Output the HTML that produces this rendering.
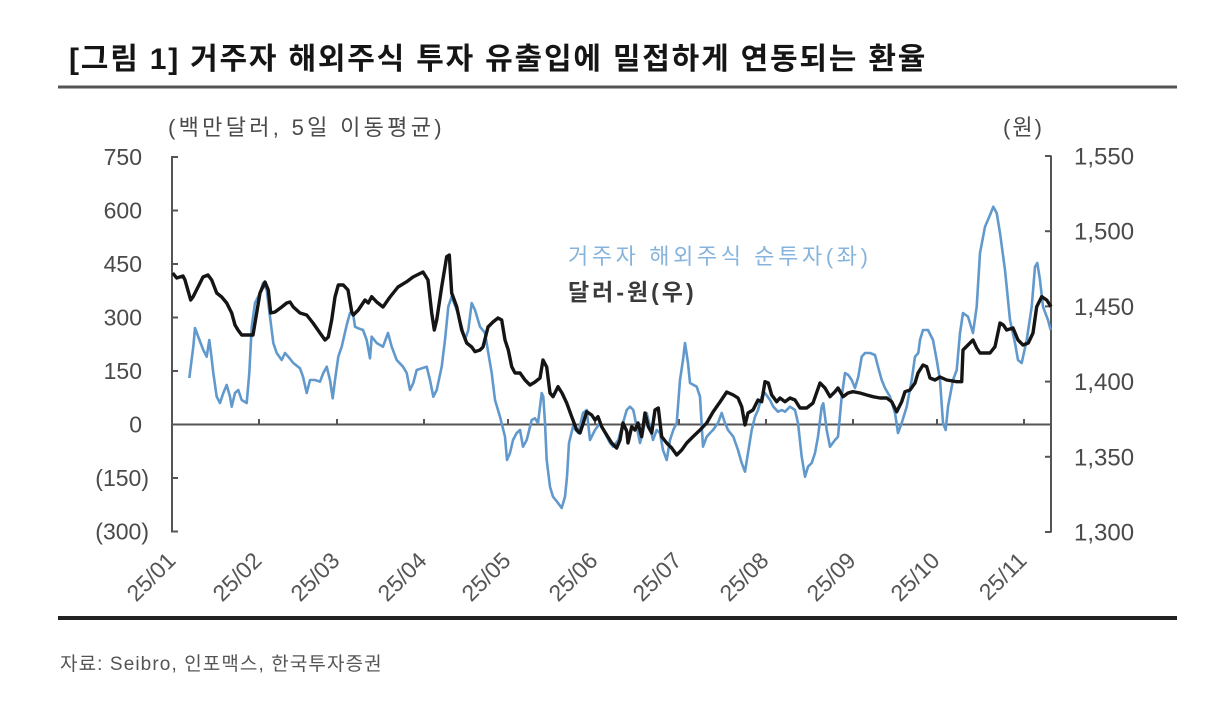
<!DOCTYPE html>
<html><head><meta charset="utf-8">
<style>
html,body{margin:0;padding:0;background:#fff;}
svg{display:block;}
text{font-family:"Liberation Sans","Noto Sans CJK KR",sans-serif;}
</style></head>
<body>
<svg width="1206" height="725" viewBox="0 0 1206 725" xmlns="http://www.w3.org/2000/svg">
<rect width="1206" height="725" fill="#fff"/>
<!-- title -->
<text x="69" y="69" font-size="30" font-weight="bold" fill="#151515" letter-spacing="1.8">[그림 1] 거주자 해외주식 투자 유출입에 밀접하게 연동되는 환율</text>
<line x1="58" y1="87" x2="1177" y2="87" stroke="#555" stroke-width="3"/>
<!-- units -->
<text x="168" y="135" font-size="22" fill="#4a4a4a" letter-spacing="3.3">(백만달러, 5일 이동평균)</text>
<text x="1003" y="135" font-size="22" fill="#4a4a4a" letter-spacing="2">(원)</text>
<!-- left axis -->
<g stroke="#555" stroke-width="2" fill="none">
<line x1="172" y1="156" x2="172" y2="532.5"/>
<line x1="172" y1="157" x2="178" y2="157"/>
<line x1="172" y1="210.5" x2="178" y2="210.5"/>
<line x1="172" y1="264" x2="178" y2="264"/>
<line x1="172" y1="317.5" x2="178" y2="317.5"/>
<line x1="172" y1="371" x2="178" y2="371"/>
<line x1="172" y1="478" x2="178" y2="478"/>
<line x1="172" y1="531.5" x2="178" y2="531.5"/>
<!-- right axis -->
<line x1="1051" y1="155.5" x2="1051" y2="532.5"/>
<line x1="1045" y1="156" x2="1051" y2="156"/>
<line x1="1045" y1="231.2" x2="1051" y2="231.2"/>
<line x1="1045" y1="306.4" x2="1051" y2="306.4"/>
<line x1="1045" y1="381.6" x2="1051" y2="381.6"/>
<line x1="1045" y1="456.8" x2="1051" y2="456.8"/>
<line x1="1045" y1="532" x2="1051" y2="532"/>
<!-- zero line -->
<line x1="172" y1="424.5" x2="1051" y2="424.5"/>
<!-- month ticks -->
<line x1="259" y1="424.5" x2="259" y2="419"/>
<line x1="337" y1="424.5" x2="337" y2="419"/>
<line x1="424" y1="424.5" x2="424" y2="419"/>
<line x1="508" y1="424.5" x2="508" y2="419"/>
<line x1="595" y1="424.5" x2="595" y2="419"/>
<line x1="679" y1="424.5" x2="679" y2="419"/>
<line x1="766" y1="424.5" x2="766" y2="419"/>
<line x1="853" y1="424.5" x2="853" y2="419"/>
<line x1="937" y1="424.5" x2="937" y2="419"/>
<line x1="1024" y1="424.5" x2="1024" y2="419"/>
</g>
<!-- left labels -->
<g font-size="23" fill="#4a4a4a" text-anchor="end">
<text x="142" y="165">750</text>
<text x="142" y="218.5">600</text>
<text x="142" y="272">450</text>
<text x="142" y="325.5">300</text>
<text x="142" y="379">150</text>
<text x="142" y="432.5">0</text>
<text x="149" y="486">(150)</text>
<text x="149" y="539.5">(300)</text>
</g>
<!-- right labels -->
<g font-size="24" fill="#4a4a4a">
<text x="1074" y="164.5">1,550</text>
<text x="1074" y="239.7">1,500</text>
<text x="1074" y="314.9">1,450</text>
<text x="1074" y="390.1">1,400</text>
<text x="1074" y="465.3">1,350</text>
<text x="1074" y="540.5">1,300</text>
</g>
<!-- x labels -->
<g font-size="23" fill="#555" text-anchor="end">
<text transform="translate(177,562) rotate(-45)">25/01</text>
<text transform="translate(263,562) rotate(-45)">25/02</text>
<text transform="translate(341,562) rotate(-45)">25/03</text>
<text transform="translate(428,562) rotate(-45)">25/04</text>
<text transform="translate(512,562) rotate(-45)">25/05</text>
<text transform="translate(599,562) rotate(-45)">25/06</text>
<text transform="translate(683,562) rotate(-45)">25/07</text>
<text transform="translate(770,562) rotate(-45)">25/08</text>
<text transform="translate(857,562) rotate(-45)">25/09</text>
<text transform="translate(941,562) rotate(-45)">25/10</text>
<text transform="translate(1028,562) rotate(-45)">25/11</text>
</g>
<!-- blue series -->
<polyline fill="none" stroke="#6199cd" stroke-width="2.6" stroke-linejoin="round" points="189.3,378 193.3,346.7 195,328 198.3,337 203.3,350 206.7,356.7 209.3,340 211,353 213.3,373 216.7,396.7 220,403 223.3,393 226.7,385 230,396.7 231.7,406.7 235,393 238.3,390 241.7,400 246.7,403 249.3,373 251.7,326.7 255,303 260,293 263,283 266.7,290 270,316.7 273.3,343 276.7,353 281.7,360 285,353 288.3,356.7 293.3,363 300,368.3 303,376.7 306.7,393 310,380 315,380 320,381.7 323.3,373 326.7,366.7 330,380 332.7,398.3 335,380 338.3,356.7 341.7,346.7 346.7,325 350,313 353.3,315 355,326.7 358.3,328.3 363,330 366.7,340 370,358.3 371.7,336.7 376.7,343 383,346.7 388,333 391.7,346.7 396.7,360 403,366.7 406.7,373 410,390 413.3,383 416.7,370 421.7,368.3 426.7,366.7 430,380 433.3,396.7 436.7,390 441.7,366.7 445,340 448.3,306.7 451.7,296.7 456.7,310 461.7,326.7 465,340 468.3,330 471.7,303 475,310 480,326.7 485,333 488.3,353 491.7,373 495,400 500,416.7 505,436.7 507,460 510,453 513,440 516.7,433 520,430 523,446.7 526.7,440 531.7,420 535,418.3 538,423 541.7,393 543.3,396.7 545,423 546.7,460 550,486.7 553,496.7 558,503 561.7,508 565,496.7 567,476.7 569,443 573,426.7 578.3,433 583,413 586.7,410 590,440 595,430 600,423 605,433 610,443 613.3,446.7 618.3,440 623,423 626.7,410 630,406.7 633.3,410 636.7,426.7 640,443 643.3,430 646.7,413 650,426.7 653,440 656.7,430 660,433 663,450 666.7,460 670,440 673.3,430 676.7,423 680,380 683,360 685,343 688,363 690,383 696.7,386.7 700,396.7 703,446.7 706.7,436.7 710,433 713,430 718,423 721.7,413 725,423 728,430 733.3,436.7 738,450 741.7,463 745,471.7 748,453 751.7,430 755,416.7 758,410 761.7,396.7 765,393 770,400 773.3,406.7 778,411.7 781.7,410 785,411.7 790,406.7 795,410 798,423 801.7,456.7 805,476.7 808,466.7 811.7,463 815,453 818,436.7 821.7,406.7 823.3,403.3 826.7,430 830,446.7 835,440 838,436.7 841.7,396.7 845,373 848.3,375 851.7,380 855,388 858.3,376.7 861.7,356.7 865,353 870,353 875,355 878,366.7 881.7,380 885,388 890,396.7 895,413 898,433 901.7,423 906.7,406.7 911.7,380 915,356.7 918.3,353 920,340 923,330 928,330 933,340 936.7,360 940,380 943,423 945.7,430 948,406.7 953,380 956.7,370 960,333 963,313 968,316.7 973,333 976.7,306.7 980,253 985,226.7 990,215 993.3,206.7 996.7,213 1000,233 1005,270 1010,320 1015,343 1018,360 1021.7,363 1026.7,340 1031.7,306.7 1035,266.7 1037.3,263 1040,280 1043,306.7 1048,320 1050.7,330"/>
<!-- black series -->
<polyline fill="none" stroke="#151515" stroke-width="3.4" stroke-linejoin="round" points="172.7,273 176.7,278 183,276 185,280 190.7,300 193,297 200,283 203,277 208,275 211.7,280 216.7,293 221.7,297 226.7,303 231.7,313 235,325 238,330 241.7,335 253,335 256,317 260,293 265,282 268.3,290 270.7,313 275,312 281.7,307 286.7,303 290,302 293.3,307 300,313 306.7,315 313,323 320,333 325,340 328.3,337 331.7,320 335,297 338.3,285 343.3,285 348,290 351.7,311.7 353.3,315 358.3,310 365,300 368.3,303 371.7,296.7 376.7,302 383,307 390,297 398,287 406.7,281.7 413,277 423,272 428,280 431.7,313 434.3,330 436.7,320 441.7,286.7 446.7,256.7 449.3,255 451.7,293 456.7,306.7 461.7,330 466.7,343 471.7,347 475,351.7 480,350 483,347 488,327 493,322 498,318 501.7,320 505,340 508.3,350 511.7,366.7 515,373 520,373 525,380 530,385 535,382 540,378 543,360 546.7,367 550,393 553,396.7 558,386.7 562,393 566.7,403 571.7,416.7 576.7,430 580,433 583.3,423 586.7,411.7 591.7,415 595,420 598,416.7 601.7,426.7 606.7,435 611.7,443 616.7,448 620,440 623,423 626.7,431 628,443 631.7,426.7 635,430 638,423 641.7,436.7 645,413 648.3,426.7 651.7,433 655,410 658.3,408 661.7,436.7 666.7,443 671.7,448 676.7,455 681.7,450 686.7,443 693,436.7 700,430 706.7,423 713,412 720,402 726.7,392 733.3,395 738,398 741.7,406.7 745,425 748,413 753,410 758,400 761.7,401.7 765,381.7 768.3,383 771.7,395 776.7,401.7 780,398 785,401.7 790,398 795,400 800,408 806.7,408 813,403 820,383 825,388 830,396.7 835,391.7 838,388 843,396.7 848,393 853,391.7 860,393 866.7,395 873,396.7 880,398 886.7,398 891.7,401.7 896.7,411.7 901.7,401.7 905,391.7 910,390 915,383 918,373 923,365 926.7,366.7 930,378 935,380 940,377 946.7,380 956.7,381.7 961.7,381.7 963,350 968,345 973,340 976.7,348 980,353 990,353 995,346.7 1000,323 1003.3,325 1006.7,330 1013,328 1018,340 1023,345 1028.3,343 1033,333 1036.7,306.7 1041.7,296.7 1046.7,300 1051,306.7"/>
<!-- legend -->
<text x="568" y="264" font-size="22" fill="#86b4dc" letter-spacing="3.6">거주자 해외주식 순투자(좌)</text>
<text x="568" y="300" font-size="23" font-weight="bold" fill="#3a3a3a" letter-spacing="3">달러-원(우)</text>
<!-- bottom rule & source -->
<line x1="58" y1="618" x2="1177" y2="618" stroke="#222" stroke-width="4"/>
<text x="60" y="670" font-size="19" fill="#555" letter-spacing="1.1">자료: Seibro, 인포맥스, 한국투자증권</text>
</svg>
</body></html>
